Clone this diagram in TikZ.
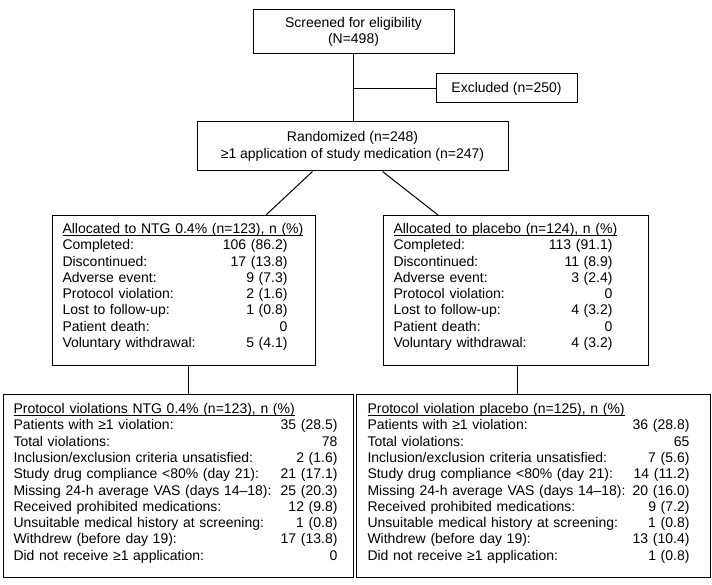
\documentclass[tikz,border=0pt]{standalone}
\usepackage{fontspec}
\setmainfont{Liberation Sans}
\newcommand\hdline[1]{\setbox0\hbox{#1}\rlap{\rule[-2pt]{\wd0}{0.8pt}}\box0}
\begin{document}
\begin{tikzpicture}[x=1pt,y=-1pt,
  font=\fontsize{14}{16.3}\selectfont,
  box/.style={draw, line width=1pt, inner sep=0pt},
  listbox/.style={box, anchor=north west, align=left, inner ysep=0pt}]
  \useasboundingbox (0,0) rectangle (712,585);

  % top of the flow
  \node [box, minimum width=201pt, minimum height=44pt, align=center] (screen) at (353.5,32)
    {Screened for eligibility\\(N=498)};
  \node [box, minimum width=141pt, minimum height=29pt] (excl) at (506.5,88.5) {Excluded (n=250)};
  \node [box, minimum width=311pt, minimum height=49pt, align=center] (rand) at (352.5,146.5)
    {Randomized (n=248)\\≥1 application of study medication (n=247)};

  % allocation
  \node [listbox, inner xsep=10pt, text width=243pt, text height=18pt, text depth=132pt] (ntg) at (52,215) {%
    \begin{tabular*}{225pt}[t]{@{}l@{\extracolsep{\fill}\hspace{4pt}}r@{}}
      \multicolumn{2}{@{}l@{}}{\rlap{\hdline{Allocated to NTG 0.4\% (n=123), n (\%)}}}\\
      Completed: & 106 (86.2)\\
      Discontinued: & 17 (13.8)\\
      Adverse event: & 9 (7.3)\\
      Protocol violation: & 2 (1.6)\\
      Lost to follow-up: & 1 (0.8)\\
      Patient death: & 0\\
      Voluntary withdrawal: & 5 (4.1)
    \end{tabular*}};
  \node [listbox, inner xsep=10pt, text width=245pt, text height=18pt, text depth=132pt] (plac) at (383,215) {%
    \begin{tabular*}{219pt}[t]{@{}l@{\extracolsep{\fill}\hspace{4pt}}r@{}}
      \multicolumn{2}{@{}l@{}}{\rlap{\hdline{Allocated to placebo (n=124), n (\%)}}}\\
      Completed: & 113 (91.1)\\
      Discontinued: & 11 (8.9)\\
      Adverse event: & 3 (2.4)\\
      Protocol violation: & 0\\
      Lost to follow-up: & 4 (3.2)\\
      Patient death: & 0\\
      Voluntary withdrawal: & 4 (3.2)
    \end{tabular*}};

  % protocol violations
  \node [listbox, inner xsep=10pt, text width=330pt, text height=19pt, text depth=164pt] (pvntg) at (3,394) {%
    \begin{tabular*}{324pt}[t]{@{}l@{\extracolsep{\fill}\hspace{3pt}}r@{}}
      \multicolumn{2}{@{}l@{}}{\rlap{\hdline{Protocol violations NTG 0.4\% (n=123), n (\%)}}}\\
      Patients with ≥1 violation: & 35 (28.5)\\
      Total violations: & 78\\
      Inclusion/exclusion criteria unsatisfied: & 2 (1.6)\\
      Study drug compliance <80\% (day 21): & 21 (17.1)\\
      Missing 24-h average VAS (days 14–18): & 25 (20.3)\\
      Received prohibited medications: & 12 (9.8)\\
      Unsuitable medical history at screening: & 1 (0.8)\\
      Withdrew (before day 19): & 17 (13.8)\\
      Did not receive ≥1 application: & 0
    \end{tabular*}};
  \node [listbox, inner xsep=11pt, text width=332pt, text height=19pt, text depth=164pt] (pvplac) at (356,394) {%
    \begin{tabular*}{322pt}[t]{@{}l@{\extracolsep{\fill}\hspace{3pt}}r@{}}
      \multicolumn{2}{@{}l@{}}{\rlap{\hdline{Protocol violation placebo (n=125), n (\%)}}}\\
      Patients with ≥1 violation: & 36 (28.8)\\
      Total violations: & 65\\
      Inclusion/exclusion criteria unsatisfied: & 7 (5.6)\\
      Study drug compliance <80\% (day 21): & 14 (11.2)\\
      Missing 24-h average VAS (days 14–18): & 20 (16.0)\\
      Received prohibited medications: & 9 (7.2)\\
      Unsuitable medical history at screening: & 1 (0.8)\\
      Withdrew (before day 19): & 13 (10.4)\\
      Did not receive ≥1 application: & 1 (0.8)
    \end{tabular*}};

  % connectors
  \draw [line width=1pt] (screen.south) -- (screen.south |- rand.north);
  \draw [line width=1pt] (excl.west) -- (excl.west -| screen.south);
  \draw [line width=1pt] ([xshift=-40pt]rand.south) -- ([xshift=82pt]ntg.north);
  \draw [line width=1pt] ([xshift=30pt]rand.south) -- ([xshift=-78pt]plac.north);
  \draw [line width=1pt] ([xshift=4pt]ntg.south) -- ([xshift=4pt]ntg.south |- pvntg.north);
  \draw [line width=1pt] ([xshift=1pt]plac.south) -- ([xshift=1pt]plac.south |- pvplac.north);
\end{tikzpicture}
\end{document}
